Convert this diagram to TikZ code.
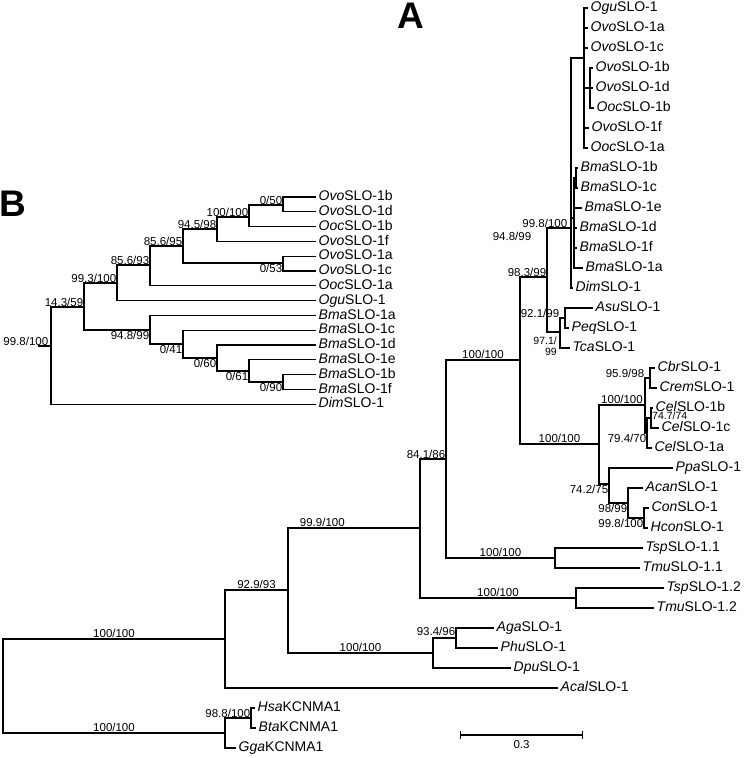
\documentclass[tikz,border=0pt]{standalone}
\usepackage{fontspec}
\setmainfont{Liberation Sans}
\usetikzlibrary{arrows.meta}

\begin{document}
\begin{tikzpicture}[x=1pt,y=-1pt,
 branch/.style={line width=1.15pt},
 leaf/.style={anchor=west,inner xsep=2.5pt,inner ysep=0pt,text height=.72em,
 text depth=0pt,font=\fontsize{14}{16}\selectfont},
 supp/.style={inner sep=.6pt,font=\fontsize{11.5}{13}\selectfont},
 tight/.style={supp,inner sep=0pt,font=\fontsize{10.5}{11}\selectfont},
 panel/.style={inner sep=0pt,font=\bfseries\fontsize{37}{37}\selectfont}]
\useasboundingbox (0,0) rectangle (745,758);
\node[panel] (panela) at (411,16) {A};
\node[panel] (panelb) at (13,204) {B};

% panel A
\foreach \nm/\pre/\suf/\x [count=\i from 0] in {ogu/Ogu/SLO-1/588,ovoa/Ovo/SLO-1a/588,
 ovoc/Ovo/SLO-1c/588,ovob/Ovo/SLO-1b/593,ovod/Ovo/SLO-1d/593,oocb/Ooc/SLO-1b/594,
 ovof/Ovo/SLO-1f/589,ooca/Ooc/SLO-1a/588,bmab/Bma/SLO-1b/578,bmac/Bma/SLO-1c/578,
 bmae/Bma/SLO-1e/582,bmad/Bma/SLO-1d/577,bmaf/Bma/SLO-1f/577,bmaa/Bma/SLO-1a/583,
 dim/Dim/SLO-1/573,asu/Asu/SLO-1/593,peq/Peq/SLO-1/569,tca/Tca/SLO-1/570,
 cbr/Cbr/SLO-1/655,crem/Crem/SLO-1/657,celb/Cel/SLO-1b/653,celc/Cel/SLO-1c/659,
 cela/Cel/SLO-1a/652,ppa/Ppa/SLO-1/673,acan/Acan/SLO-1/643,con/Con/SLO-1/649,
 hcon/Hcon/SLO-1/648,tspa/Tsp/SLO-1.1/643,tmua/Tmu/SLO-1.1/640,tspb/Tsp/SLO-1.2/664,
 tmub/Tmu/SLO-1.2/654,aga/Aga/SLO-1/494,phu/Phu/SLO-1/498,dpu/Dpu/SLO-1/511,
 acal/Acal/SLO-1/558,hsa/Hsa/KCNMA1/255,bta/Bta/KCNMA1/256,gga/Gga/KCNMA1/236}
 \node[leaf] (\nm) at (\x,{8+20*\i}) {\textit{\pre}\suf};

\coordinate (root) at (3,686);
\coordinate (n1) at (225,639);
\coordinate (nk) at (225,733);
\coordinate (hsabta) at (251,718);
\coordinate (n2) at (288,590);
\coordinate (n3) at (420,528);
\coordinate (n4) at (433,653);
\coordinate (agaphu) at (456,638);
\coordinate (n5) at (446,459);
\coordinate (tsp2) at (576,598);
\coordinate (tsp1) at (555,558);
\coordinate (n7) at (520,360);
\coordinate (n9) at (547,277);
\coordinate (ovobma) at (571,228);
\coordinate (ovo) at (584,58);
\coordinate (ovosub) at (590,88);
\coordinate (bma) at (574,218);
\coordinate (bmasub) at (576,178);
\coordinate (asutca) at (560,332);
\coordinate (asupeq) at (565,318);
\coordinate (nema) at (599,444);
\coordinate (cbrcel) at (645,405);
\coordinate (cbrcrem) at (650,378);
\coordinate (cel) at (647,433);
\coordinate (celsub) at (651,418);
\coordinate (ppahcon) at (609,484);
\coordinate (acanhcon) at (628,503);
\coordinate (conhcon) at (644,518);

\foreach \p/\c in {nk/hsabta,nk/gga,hsabta/hsa,hsabta/bta,n1/acal,n4/agaphu,n4/dpu,
 agaphu/aga,agaphu/phu,n3/n5,tsp2/tspb,tsp2/tmub,tsp1/tspa,tsp1/tmua,n7/n9,
 n9/ovobma,n9/asutca,ovobma/ovo,ovobma/bma,ovobma/dim,ovo/ogu,ovo/ovoa,ovo/ovoc,
 ovo/ovosub,ovo/ovof,ovo/ooca,ovosub/ovob,ovosub/ovod,ovosub/oocb,bma/bmasub,
 bma/bmae,bma/bmad,bma/bmaf,bma/bmaa,bmasub/bmab,bmasub/bmac,asutca/asupeq,
 asutca/tca,asupeq/asu,asupeq/peq,nema/ppahcon,cbrcel/cbrcrem,cbrcel/cel,
 cbrcrem/cbr,cbrcrem/crem,cel/celsub,cel/cela,celsub/celb,celsub/celc,
 ppahcon/acanhcon,ppahcon/ppa,acanhcon/acan,acanhcon/conhcon,conhcon/con,conhcon/hcon}
 \draw[branch] (\p) |- (\c);

\draw[branch] (root) |- node[supp,pos=.75,above] {100/100} (n1);
\draw[branch] (root) |- node[supp,pos=.75,above] {100/100} (nk);
\draw[branch] (n1) |- node[supp,pos=.75,above] {92.9/93} (n2);
\draw[branch] (n2) |- node[supp,pos=.75,above] {100/100} (n4);
\draw[branch] (n2) |- node[supp,pos=.63,above] {99.9/100} (n3);
\draw[branch] (n3) |- node[supp,pos=.75,above] {100/100} (tsp2);
\draw[branch] (n5) |- node[supp,pos=.75,above] {100/100} (tsp1);
\draw[branch] (n5) |- node[supp,pos=.75,above] {100/100} (n7);
\draw[branch] (n7) |- node[supp,pos=.75,above] {100/100} (nema);
\draw[branch] (nema) |- node[supp,pos=.75,above] {100/100} (cbrcel);

\node[supp,above left] at (n5) {84.1/86};
\node[supp,above left] at (n9) {98.3/99};
\node[supp,above left] at ([xshift=-3pt]ovobma) {99.8/100};
\node[supp,anchor=east] (bmasupp) at (532,236) {94.8/99};
\node[supp,above left] at ([xshift=-5pt]asupeq) {92.1/99};
\node[tight,below left,align=right] at ([xshift=-3pt,yshift=-5pt]asutca) {97.1/\\99};
\node[supp,above left] at ([xshift=-5pt]cbrcrem) {95.9/98};
\node[tight,anchor=west] at ([xshift=1pt,yshift=2pt]celsub) {74.7/74};
\node[supp,below left] at (cel) {79.4/70};
\node[supp,below left] at (ppahcon) {74.2/75};
\node[supp,below left] at (acanhcon) {98/99};
\node[supp,below left] at (conhcon) {99.8/100};
\node[supp,above left] at ([yshift=2pt]agaphu) {93.4/96};
\node[supp,above left] at (hsabta) {98.8/100};

\coordinate (sbl) at (460,735);
\coordinate (sbr) at (583,735);
\draw[branch,{Bar[width=8pt]}-{Bar[width=8pt]}] (sbl) -- node[supp,below=4pt] {0.3} (sbr);

% panel B
\foreach \nm/\pre/\suf [count=\i from 0] in {bovob/Ovo/SLO-1b,bovod/Ovo/SLO-1d,
 boocb/Ooc/SLO-1b,bovof/Ovo/SLO-1f,bovoa/Ovo/SLO-1a,bovoc/Ovo/SLO-1c,booca/Ooc/SLO-1a,
 bogu/Ogu/SLO-1,bbmaa/Bma/SLO-1a,bbmac/Bma/SLO-1c,bbmad/Bma/SLO-1d,bbmae/Bma/SLO-1e,
 bbmab/Bma/SLO-1b,bbmaf/Bma/SLO-1f,bdim/Dim/SLO-1}
 \node[leaf] (\nm) at (316,{197+14.8*\i}) {\textit{\pre}\suf};

\coordinate (bstub) at (38,346);
\coordinate (broot) at (51,346);
\coordinate (b14) at (84,307);
\coordinate (b99) at (117,283);
\coordinate (b856a) at (150,265);
\coordinate (b856b) at (183,246);
\coordinate (b945) at (217,229);
\coordinate (b100) at (249,217);
\coordinate (b050) at (283,205);
\coordinate (b053) at (283,263);
\coordinate (b948) at (150,330);
\coordinate (b041) at (183,344);
\coordinate (b060) at (217,358);
\coordinate (b061) at (249,371);
\coordinate (b090) at (283,382);

\draw[branch] (bstub) -- (broot);
\foreach \p/\c in {broot/b14,broot/bdim,b14/b99,b14/b948,b99/b856a,b99/bogu,
 b856a/b856b,b856a/booca,b856b/b945,b856b/b053,b945/b100,b945/bovof,b100/b050,
 b100/boocb,b050/bovob,b050/bovod,b053/bovoa,b053/bovoc,b948/bbmaa,b948/b041,
 b041/bbmac,b041/b060,b060/bbmad,b060/b061,b061/bbmae,b061/b090,b090/bbmab,b090/bbmaf}
 \draw[branch] (\p) |- (\c);

\node[supp,above left] at ([xshift=-2pt]broot) {99.8/100};
\node[supp,above left] at (b14) {14.3/59};
\node[supp,above left] at (b99) {99.3/100};
\node[supp,above left] at (b856a) {85.6/93};
\node[supp,above left] at (b856b) {85.6/95};
\node[supp,above left] at (b945) {94.5/98};
\node[supp,above left] at (b100) {100/100};
\node[supp,above left] at (b050) {0/50};
\node[supp,below left] at (b053) {0/53};
\node[supp,below left] at (b948) {94.8/99};
\node[supp,below left] at (b041) {0/41};
\node[supp,below left] at (b060) {0/60};
\node[supp,below left] at (b061) {0/61};
\node[supp,below left] at (b090) {0/90};
\end{tikzpicture}
\end{document}
